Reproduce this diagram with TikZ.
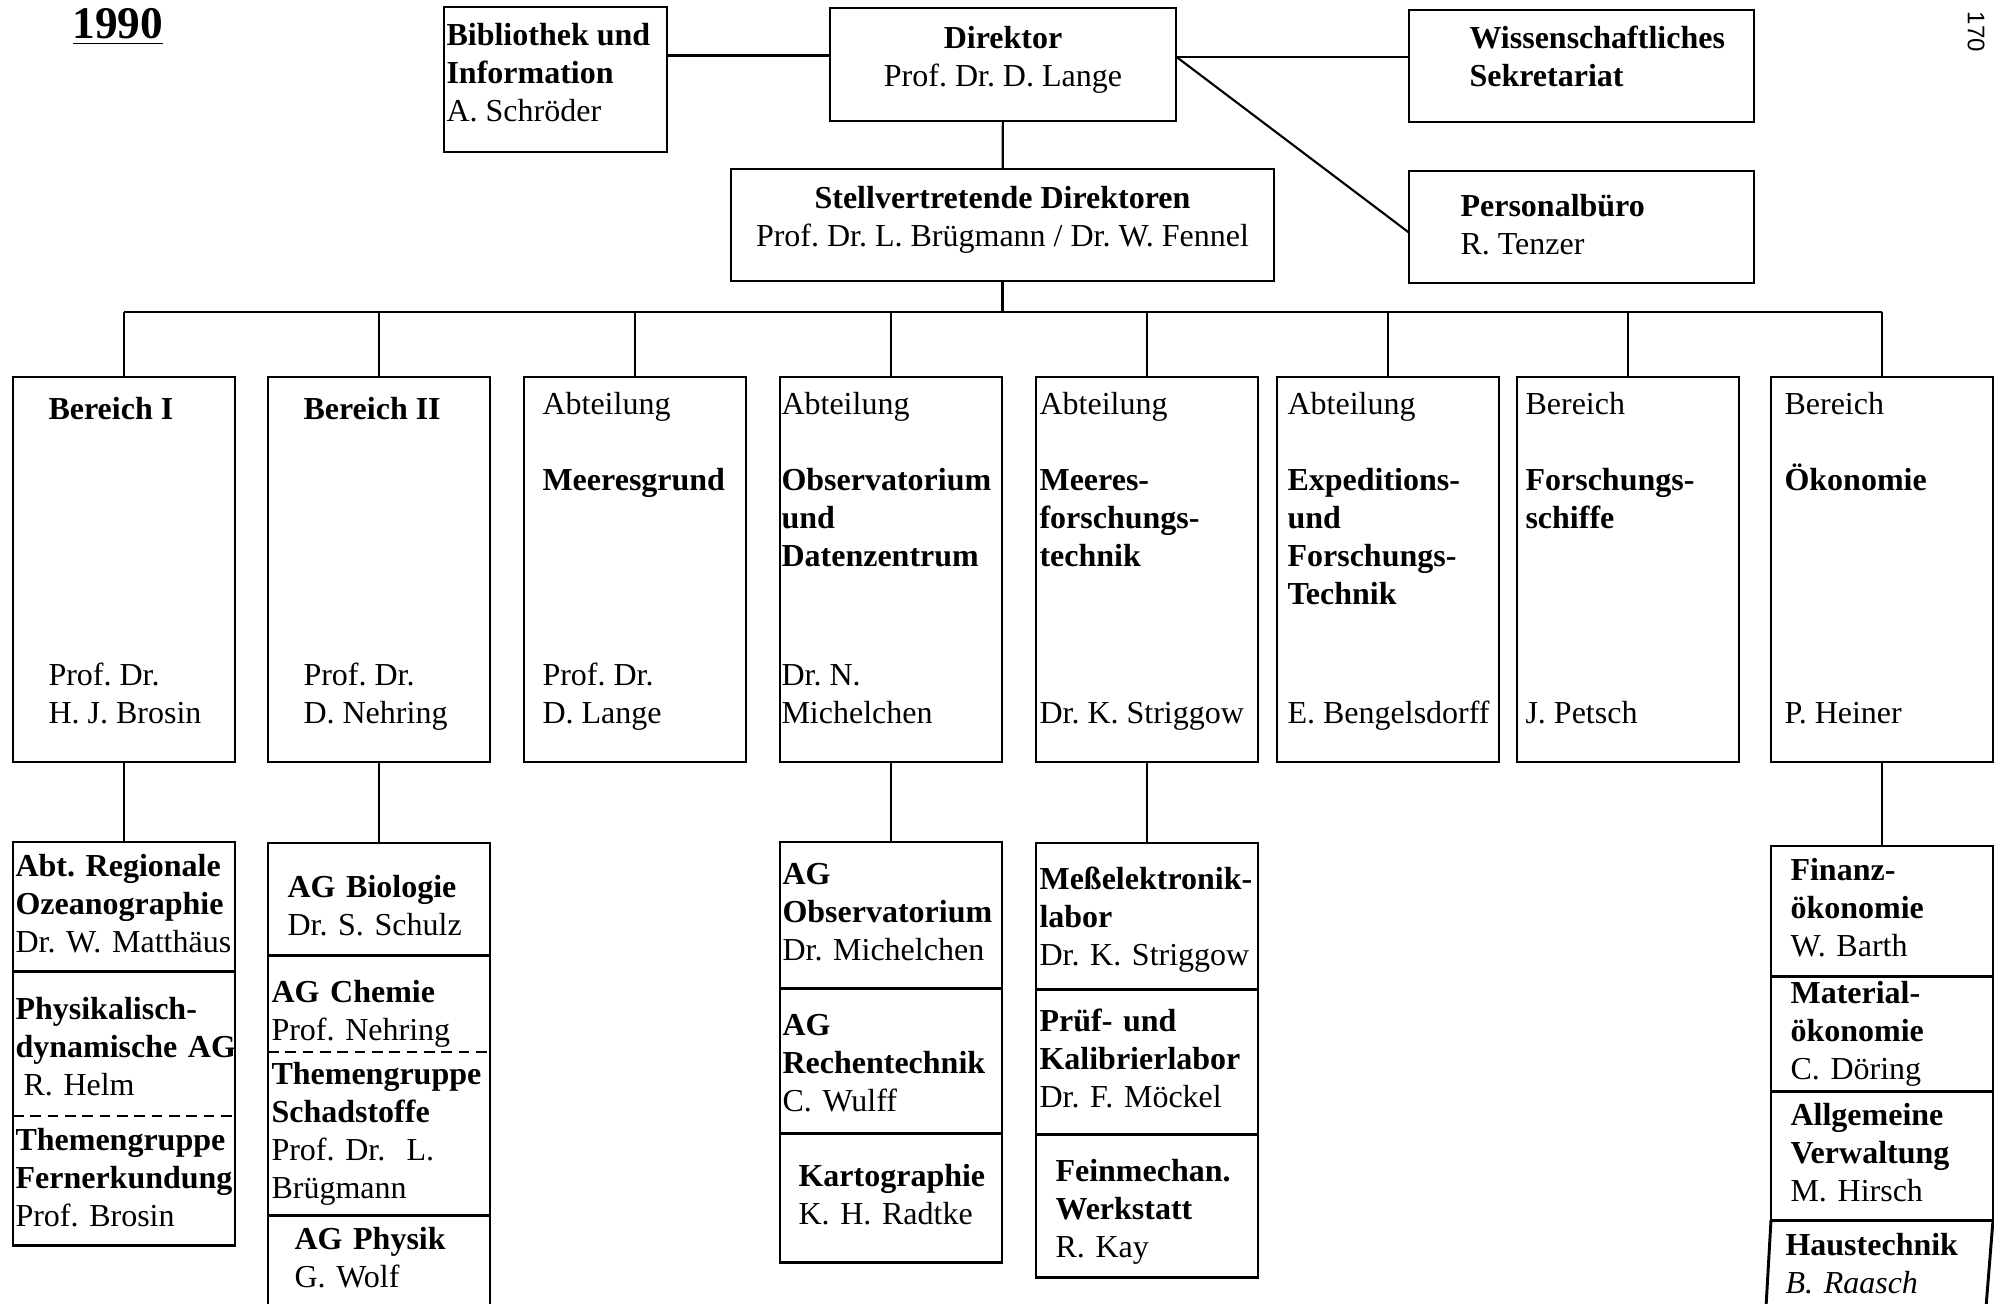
\documentclass[tikz,border=0pt]{standalone}
\usepackage{fontspec}
\setmainfont{Liberation Serif}
\setsansfont{Liberation Sans}
\usetikzlibrary{calc}
\newcommand{\pxl}{0.375pt}
\frenchspacing

\begin{document}
\begin{tikzpicture}[
    x=0.375pt, y=-0.375pt,
    every node/.style={font=\fontsize{12}{14.25}\selectfont},
    frame/.style={draw, line width=1.1pt, inner sep=0pt, outer sep=0pt},
    top box/.style 2 args={frame, anchor=north west, minimum width=#1*\pxl, minimum height=#2*\pxl},
    area/.style={frame, anchor=north west, minimum width=222*\pxl, minimum height=385*\pxl},
    txt/.style={inner sep=0pt, align=left, execute at begin node=\strut, execute at end node=\strut},
    sink/.style={execute at begin node={\strut\rule{0pt}{#1}}},
    sect/.style 2 args={txt, anchor=north west, minimum height=#1*\pxl, inner xsep=#2*\pxl, text width=230*\pxl},
    link/.style={line width=.8pt},
    split/.style={line width=1.1pt},
    dash split/.style={line width=.9pt, dash pattern=on 4pt off 2.5pt}
]
    \useasboundingbox (0,0) rectangle (1994,1304);

    \node[font=\fontsize{17}{20}\selectfont\bfseries, anchor=base west, inner sep=0pt] (year) at (72,39) {\underline{1990}};
    \node[font=\sffamily\fontsize{9}{10}\selectfont, rotate=-90, inner sep=0pt] (page) at (1976,32) {170};

    \node[top box={223}{145}] (bib) at (444,7) {};
    \node[top box={346}{113}] (dir) at (830,8) {};
    \node[top box={345}{112}] (wiss) at (1409,10) {};
    \node[top box={345}{112}] (pers) at (1409,171) {};
    \node[top box={543}{112}] (stv) at (731,169) {};

    \node[txt, anchor=north west] (bib t) at ($(bib.north west)+(2,16)$) {\textbf{Bibliothek und}\\\textbf{Information}\\A. Schröder};
    \node[txt, align=center, anchor=north] (dir t) at ($(dir.north)+(0,18)$) {\textbf{Direktor}\\Prof. Dr. D. Lange};
    \node[txt, anchor=north west] (wiss t) at ($(wiss.north west)+(60,15)$) {\textbf{Wissenschaftliches}\\\textbf{Sekretariat}};
    \node[txt, anchor=north west] (pers t) at ($(pers.north west)+(51,23)$) {\textbf{Personalbüro}\\R. Tenzer};
    \node[txt, align=center, anchor=north] (stv t) at ($(stv.north)+(0,17)$) {\textbf{Stellvertretende Direktoren}\\Prof. Dr. L. Brügmann / Dr. W. Fennel};

    % Leitung:
    \coordinate (dir w) at ($(dir.north west)!.42!(dir.south west)$);
    \coordinate (dir e) at ($(dir.north east)!.43!(dir.south east)$);
    \draw[link] (bib.east |- dir w) -- (dir w);
    \draw[link] (dir e) -- (wiss.west |- dir e);
    \draw[link] (dir e) -- ($(pers.north west)!.55!(pers.south west)$);
    \draw[link] (dir) -- (stv);

    \foreach \n/\x/\i/\head/\who in {
        b1/13/35/{\textbf{Bereich I}}/{Prof. Dr.\\H. J. Brosin},
        b2/268/35/{\textbf{Bereich II}}/{Prof. Dr.\\D. Nehring},
        b3/524/18/{Abteilung\\[14.25pt]\textbf{Meeresgrund}}/{Prof. Dr.\\D. Lange},
        b4/780/1/{Abteilung\\[14.25pt]\textbf{Observatorium}\\\textbf{und}\\\textbf{Datenzentrum}}/{Dr. N.\\Michelchen},
        b5/1036/3/{Abteilung\\[14.25pt]\textbf{Meeres-}\\\textbf{forschungs-}\\\textbf{technik}}/{Dr. K. Striggow},
        b6/1277/10/{Abteilung\\[14.25pt]\textbf{Expeditions-}\\\textbf{und}\\\textbf{Forschungs-}\\\textbf{Technik}}/{E. Bengelsdorff},
        b7/1517/8/{Bereich\\[14.25pt]\textbf{Forschungs-}\\\textbf{schiffe}}/{J. Petsch},
        b8/1771/13/{Bereich\\[14.25pt]\textbf{Ökonomie}}/{P. Heiner}} {
        \node[area] (\n) at (\x,377) {};
        \node[txt, anchor=north west] (\n-head) at ($(\n.north west)+(\i,15)$) {\head};
        \node[txt, anchor=south west] (\n-who) at ($(\n.south west)+(\i,-27)$) {\who};
    }

    % Verteiler:
    \coordinate (bus) at (0,312);
    \draw[link] (stv) -- (stv |- bus);
    \draw[link] (b1 |- bus) -- (b8 |- bus);
    \foreach \k in {1,...,8} {
        \draw[link] (b\k) -- (b\k |- bus);
    }

    % Bereich I
    \node[sect={128}{2}] (s1a) at ($(b1.south west)+(0,80)$) {\textbf{Abt. Regionale}\\\textbf{Ozeanographie}\\Dr.~W.~Matthäus};
    \node[sect={144}{2}, sink=14.5pt] (s1b) at (s1a.south west) {\textbf{Physikalisch-}\\\textbf{dynamische~AG}\\\hspace*{3pt}R. Helm};
    \node[sect={128}{2}] (s1c) at (s1b.south west) {\textbf{Themengruppe}\\\textbf{Fernerkundung}\\Prof. Brosin};
    \draw[frame] (s1a.north west) rectangle (b1.east |- s1c.south);
    \draw[split] (s1a.south west) -- (b1.east |- s1a.south);
    \draw[dash split] (s1b.south west) -- (b1.east |- s1b.south);
    \draw[link] (b1) -- (b1 |- s1a.north);

    % Bereich II
    \node[sect={111}{19}, sink=17.5pt] (s2a) at ($(b2.south west)+(0,81)$) {\textbf{AG Biologie}\\Dr. S. Schulz};
    \node[sect={96}{3}, sink=17.5pt] (s2b) at (s2a.south west) {\textbf{AG Chemie}\\Prof. Nehring};
    \node[sect={162}{3}] (s2c) at (s2b.south west) {\textbf{Themengruppe}\\\textbf{Schadstoffe}\\Prof. Dr.\ \ L.\\Brügmann};
    \node[sect={90}{26}] (s2d) at (s2c.south west) {\textbf{AG Physik}\\G. Wolf};
    \draw[frame] (s2a.north west) rectangle (b2.east |- s2d.south);
    \draw[split] (s2a.south west) -- (b2.east |- s2a.south);
    \draw[dash split] (s2b.south west) -- (b2.east |- s2b.south);
    \draw[split] (s2c.south west) -- (b2.east |- s2c.south);
    \draw[link] (b2) -- (b2 |- s2a.north);

    % Observatorium
    \node[sect={145}{2}] (s4a) at ($(b4.south west)+(0,80)$) {\textbf{AG}\\\textbf{Observatorium}\\Dr. Michelchen};
    \node[sect={144}{2}, sink=13.75pt] (s4b) at (s4a.south west) {\textbf{AG}\\\textbf{Rechentechnik}\\C. Wulff};
    \node[sect={128}{18}] (s4c) at (s4b.south west) {\textbf{Kartographie}\\K. H. Radtke};
    \draw[frame] (s4a.north west) rectangle (b4.east |- s4c.south);
    \draw[split] (s4a.south west) -- (b4.east |- s4a.south);
    \draw[split] (s4b.south west) -- (b4.east |- s4b.south);
    \draw[link] (b4) -- (b4 |- s4a.north);

    % Meeresforschungstechnik
    \node[sect={145}{3}, sink=12.9pt] (s5a) at ($(b5.south west)+(0,81)$) {\textbf{Meßelektronik-}\\\textbf{labor}\\Dr.~K.~Striggow};
    \node[sect={144}{3}] (s5b) at (s5a.south west) {\textbf{Prüf- und}\\\textbf{Kalibrierlabor}\\Dr. F. Möckel};
    \node[sect={142}{19}, sink=14.5pt] (s5c) at (s5b.south west) {\textbf{Feinmechan.}\\\textbf{Werkstatt}\\R. Kay};
    \draw[frame] (s5a.north west) rectangle (b5.east |- s5c.south);
    \draw[split] (s5a.south west) -- (b5.east |- s5a.south);
    \draw[split] (s5b.south west) -- (b5.east |- s5b.south);
    \draw[link] (b5) -- (b5 |- s5a.north);

    % Ökonomie
    \node[sect={129}{19}] (s8a) at ($(b8.south west)+(0,84)$) {\textbf{Finanz-}\\\textbf{ökonomie}\\W. Barth};
    \node[sect={112}{19}] (s8b) at (s8a.south west) {\textbf{Material-}\\\textbf{ökonomie}\\C. Döring};
    \node[sect={128}{19}] (s8c) at (s8b.south west) {\textbf{Allgemeine}\\\textbf{Verwaltung}\\M. Hirsch};
    \node[sect={89}{14}, sink=11pt] (s8d) at (s8c.south west) {\textbf{Haustechnik}\\\textit{B. Raasch}};
    \draw[frame] (s8a.north west) rectangle (b8.east |- s8c.south);
    \draw[split] (s8a.south west) -- (b8.east |- s8a.south);
    \draw[split] (s8b.south west) -- (b8.east |- s8b.south);
    \draw[frame] (s8d.north west) -- ++(-5,87) -- ($(b8.east |- s8d.north)+(-7,87)$) -- (b8.east |- s8d.north);
    \draw[link] (b8) -- (b8 |- s8a.north);

\end{tikzpicture}
\end{document}
